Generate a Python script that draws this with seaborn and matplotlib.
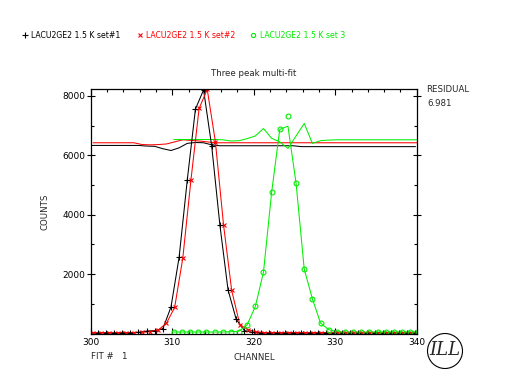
import numpy as np
import pandas as pd
import seaborn as sns
import matplotlib
matplotlib.use("Agg")
import matplotlib.pyplot as plt
from matplotlib.lines import Line2D
from matplotlib.patches import Ellipse
from matplotlib.ticker import MultipleLocator

sns.set_theme(style="white")
plt.rcParams['font.family'] = ['DejaVu Sans']

# ---------------- data ----------------
channels = np.arange(300, 341)            # 300 .. 340
black_shift, red_shift, green_shift = -0.15, 0.3, 0.2

black_counts = [30, 20, 30, 20, 30, 30, 40, 80, 100, 160, 890, 2570, 5168, 7553, 8200,
                6300, 3656, 1472, 480, 100, 40, 30, 20, 30, 20, 30, 20, 30, 20, 30,
                20, 30, 20, 30, 20, 30, 20, 30, 20, 30, 20]
red_counts = [20, 30, 20, 30, 20, 30, 40, 60, 120, 350, 877, 2537, 5168, 7577, 8215,
              6455, 3656, 1448, 300, 130, 60, 30, 20, 30, 20, 30, 20, 30, 20, 30,
              20, 30, 20, 30, 20, 30, 20, 30, 20, 30, 20]
black_resid = [6330, 6330, 6330, 6330, 6330, 6330, 6330, 6310, 6300, 6220, 6160, 6250,
               6400, 6430, 6420, 6350, 6320, 6320, 6320, 6320, 6320, 6320, 6320, 6320,
               6320, 6320, 6290, 6290, 6290, 6290, 6290, 6290, 6290, 6290, 6290, 6290,
               6290, 6290, 6290, 6290, 6290]
red_resid = [6420, 6420, 6420, 6420, 6420, 6420, 6360, 6350, 6360, 6380, 6450, 6520,
             6500, 6480, 6450, 6420, 6420, 6420, 6420, 6420, 6420, 6420, 6420, 6420,
             6420, 6420, 6420, 6420, 6420, 6420, 6420, 6420, 6420, 6420, 6420, 6420,
             6420, 6420, 6420, 6420, 6420]

green_channels = np.arange(310, 341)      # 310 .. 340
green_counts = [50, 60, 50, 60, 50, 60, 50, 60, 50, 296, 910, 2066, 4754, 6870, 7330,
                5056, 2167, 1170, 352, 128, 60, 50, 60, 50, 60, 50, 60, 50, 60, 50, 60]
green_fit = [50, 50, 50, 50, 50, 50, 50, 60, 80, 296, 910, 2066, 4754, 6870, 6980,
             5056, 2167, 1170, 352, 128, 60, 50, 50, 50, 50, 50, 50, 50, 50, 50, 50]
green_resid = [6530, 6530, 6530, 6530, 6530, 6530, 6520, 6480, 6490, 6560, 6650, 6900,
               6570, 6450, 6230, 6650, 7070, 6400, 6490, 6510, 6520, 6520, 6520, 6520,
               6520, 6520, 6520, 6520, 6520, 6520, 6520]

x_ticks = [300, 310, 320, 330, 340]
y_ticks = [2000, 4000, 6000, 8000]
legend_labels = ["LACU2GE2 1.5 K set#1", "LACU2GE2 1.5 K set#2", "LACU2GE2 1.5 K set 3"]
residual_value = "6.981"
fit_number = "1"

# ---------------- frames ----------------
df_black = pd.DataFrame({"ch": channels + black_shift, "y": black_counts})
df_red = pd.DataFrame({"ch": channels + red_shift, "y": red_counts})
df_green = pd.DataFrame({"ch": green_channels + green_shift, "y": green_counts})
df_green_fit = pd.DataFrame({"ch": green_channels + green_shift, "y": green_fit})
df_black_res = pd.DataFrame({"ch": channels + black_shift, "y": black_resid})
df_red_res = pd.DataFrame({"ch": channels + red_shift, "y": red_resid})
df_green_res = pd.DataFrame({"ch": green_channels + green_shift, "y": green_resid})

W, H = 506, 389
fig = plt.figure(figsize=(W / 100, H / 100), dpi=100)
fig.patch.set_facecolor("white")
ax = fig.add_axes([90.7 / W, 1 - 333.5 / H, (416.7 - 90.7) / W, (333.5 - 89) / H])
ax.set_facecolor("white")

BLACK, RED, GREEN = "#000000", "#ff0000", "#00ee00"
lw = 0.75

# residual lines
sns.lineplot(data=df_black_res, x="ch", y="y", ax=ax, color=BLACK, lw=lw, estimator=None, sort=False)
sns.lineplot(data=df_red_res, x="ch", y="y", ax=ax, color=RED, lw=lw, estimator=None, sort=False)
sns.lineplot(data=df_green_res, x="ch", y="y", ax=ax, color=GREEN, lw=lw, estimator=None, sort=False)

# fit lines
sns.lineplot(data=df_black, x="ch", y="y", ax=ax, color=BLACK, lw=lw, estimator=None, sort=False)
sns.lineplot(data=df_red, x="ch", y="y", ax=ax, color=RED, lw=lw, estimator=None, sort=False)
sns.lineplot(data=df_green_fit, x="ch", y="y", ax=ax, color=GREEN, lw=lw, estimator=None, sort=False)

# data markers
ax.plot(df_black["ch"], df_black["y"], ls="none", marker="+", ms=5, mew=0.8, color=BLACK)
ax.plot(df_red["ch"], df_red["y"], ls="none", marker="x", ms=3.5, mew=0.8, color=RED)
ax.plot(df_green["ch"], df_green["y"], ls="none", marker="o", ms=3.5, mew=0.8,
        mfc="none", color=GREEN)

ax.set_xlim(300, 340)
ax.set_ylim(0, 8230)
ax.set_xlabel("")
ax.set_ylabel("")

for s in ax.spines.values():
    s.set_visible(True)
    s.set_color("black")
    s.set_linewidth(0.9)

ax.xaxis.set_minor_locator(MultipleLocator(2))
ax.yaxis.set_minor_locator(MultipleLocator(1000))
ax.set_xticks(x_ticks)
ax.set_yticks(y_ticks)
ax.set_xticklabels([str(t) for t in x_ticks])
ax.set_yticklabels([str(t) for t in y_ticks])
ax.tick_params(axis="x", which="major", direction="in", length=4, width=0.8,
               top=True, bottom=True, labelsize=6.5, pad=3, colors="black")
ax.tick_params(axis="x", which="minor", direction="in", length=2.5, width=0.8,
               top=True, bottom=True, colors="black")
ax.tick_params(axis="y", which="major", direction="inout", length=6, width=0.8,
               left=True, right=True, labelsize=6.5, pad=1, colors="black")
ax.tick_params(axis="y", which="minor", direction="in", length=2.5, width=0.8,
               left=True, right=True, colors="black")

fs = 6.2
def fx(px): return px / W
def fy(py): return 1 - py / H

fig.text(fx(254), fy(74), "Three peak multi-fit", ha="center", va="center", fontsize=fs)
fig.text(fx(426), fy(89), "RESIDUAL", ha="left", va="center", fontsize=fs)
fig.text(fx(427), fy(103), residual_value, ha="left", va="center", fontsize=fs)
fig.text(fx(45), fy(212), "COUNTS", ha="center", va="center", rotation=90, fontsize=fs)
fig.text(fx(254), fy(358), "CHANNEL", ha="center", va="center", fontsize=fs)
fig.text(fx(91), fy(356.5), "FIT #   " + fit_number, ha="left", va="center", fontsize=fs)

# legend row
leg_x = [25, 139.5, 253.5]
leg_col = [BLACK, RED, GREEN]
leg_mk = [dict(marker="+", ms=4.5), dict(marker="x", ms=3), dict(marker="o", ms=3, mfc="none")]
for x0, c, mk, lab in zip(leg_x, leg_col, leg_mk, legend_labels):
    fig.add_artist(Line2D([fx(x0)], [fy(35)], color=c, mew=0.8, ls="none", **mk))
    fig.text(fx(x0 + 6), fy(35), lab, color=c, ha="left", va="center", fontsize=5.6)

# ILL logo
fig.add_artist(Ellipse((fx(445), fy(351)), 35 / W, 35 / H, transform=fig.transFigure,
                       fill=False, edgecolor="black", linewidth=0.8))
fig.text(fx(445), fy(350), "ILL", ha="center", va="center", fontsize=13,
         style="italic", family="DejaVu Serif", fontweight="light")

fig.savefig("out.png", dpi=100, facecolor="white")
